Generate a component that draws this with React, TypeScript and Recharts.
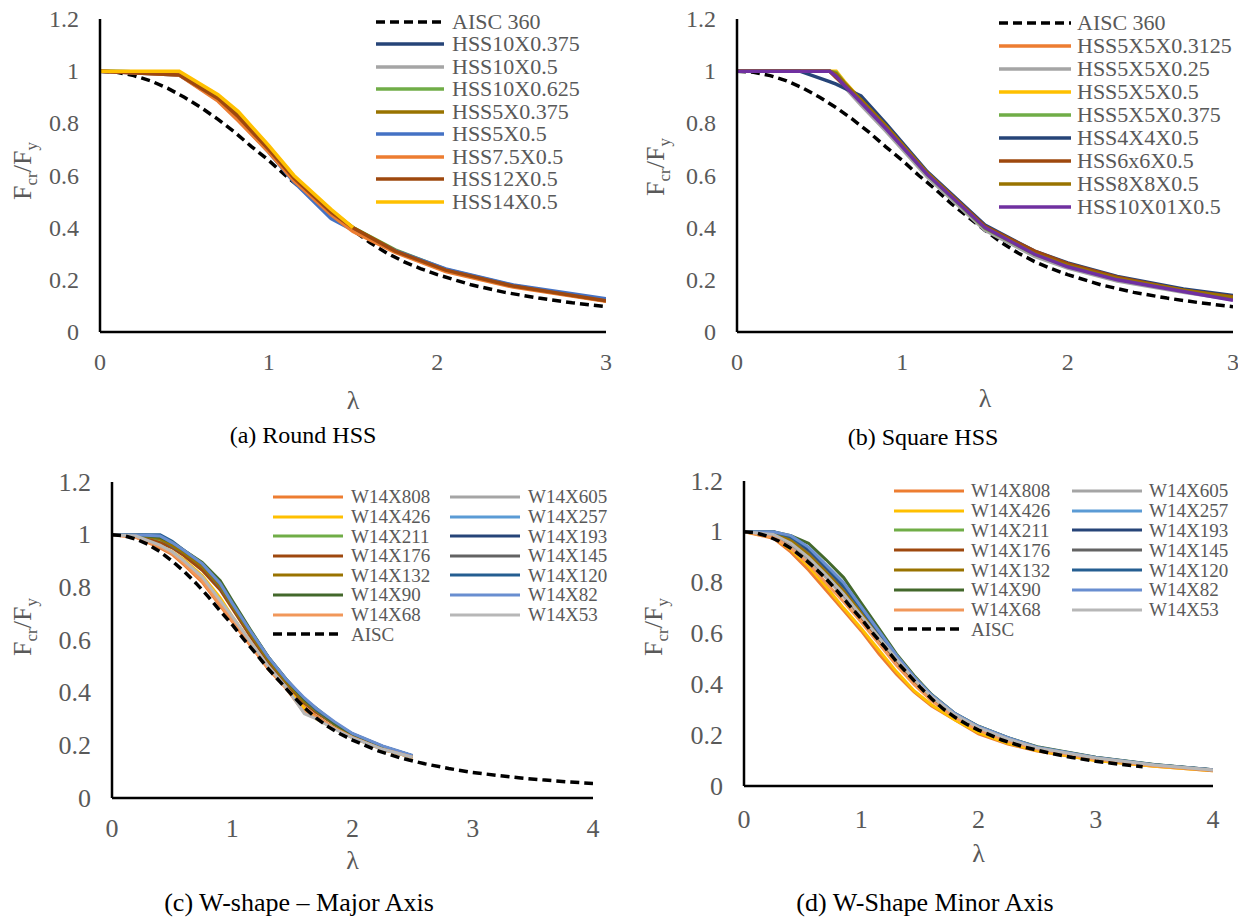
import { Line, LineChart, XAxis, YAxis } from "recharts";

const FONT = "'Liberation Serif', 'Times New Roman', serif";
const GREY = "#595959";

const Y_TICKS = [0, 0.2, 0.4, 0.6, 0.8, 1, 1.2];
const X_TICKS_HSS = [0, 1, 2, 3];
const X_TICKS_W = [0, 1, 2, 3, 4];

// AISC 360 column curve
const AISC_LAM = [0, 0.1, 0.2, 0.3, 0.4, 0.5, 0.6, 0.7, 0.8, 0.9, 1.0, 1.1, 1.2, 1.3, 1.4, 1.5, 1.6, 1.7, 1.8, 1.9, 2.0, 2.2, 2.4, 2.6, 2.8, 3.0, 3.2, 3.4, 3.6, 3.8, 4.0];
const AISC_VAL = [1.0, 0.996, 0.983, 0.963, 0.935, 0.9, 0.86, 0.815, 0.765, 0.71, 0.658, 0.6, 0.547, 0.49, 0.44, 0.39, 0.343, 0.303, 0.27, 0.243, 0.22, 0.181, 0.152, 0.13, 0.112, 0.097, 0.086, 0.076, 0.068, 0.061, 0.055];

// (a) Round HSS
const ROUND_LAM = [0, 0.47, 0.7, 0.82, 1.0, 1.15, 1.37, 1.5, 1.75, 2.05, 2.45, 3.0];
const ROUND_NAMES = ["HSS10X0.375", "HSS10X0.5", "HSS10X0.625", "HSS5X0.375", "HSS5X0.5", "HSS7.5X0.5", "HSS12X0.5", "HSS14X0.5"];
const ROUND_COLORS = ["#264478", "#A5A5A5", "#70AD47", "#997300", "#4472C4", "#ED7D31", "#9E480E", "#FFC000"];
const ROUND_VALUES: (number | null)[][] = [
  [1, 0.995, 0.9, 0.83, 0.7, 0.59, 0.46, 0.395, 0.31, 0.237, 0.176, 0.122],
  [1, 0.995, 0.9, 0.83, 0.7, 0.59, 0.455, 0.39, 0.308, 0.235, 0.175, 0.12],
  [1, 0.995, 0.905, 0.835, 0.705, 0.595, 0.465, 0.4, 0.315, 0.24, 0.178, 0.122],
  [1, 0.99, 0.905, 0.835, 0.705, 0.59, 0.46, 0.4, 0.312, 0.238, 0.176, 0.12],
  [1, 0.985, 0.89, 0.815, 0.69, 0.575, 0.435, 0.39, 0.312, 0.242, 0.18, 0.127],
  [1, 0.985, 0.885, 0.81, 0.69, 0.58, 0.45, 0.385, 0.305, 0.232, 0.172, 0.118],
  [1, 0.985, 0.895, 0.825, 0.7, 0.59, 0.46, 0.4, 0.31, 0.237, 0.176, 0.12],
  [1, 1, 0.91, 0.845, 0.715, 0.6, 0.47, 0.4, null, null, null, null],
];

// (b) Square HSS
const SQUARE_LAM = [0, 0.38, 0.56, 0.6, 0.65, 0.75, 0.9, 1.15, 1.5, 1.8, 2.0, 2.3, 2.7, 3.0];
const SQUARE_NAMES = ["HSS5X5X0.3125", "HSS5X5X0.25", "HSS5X5X0.5", "HSS5X5X0.375", "HSS4X4X0.5", "HSS6x6X0.5", "HSS8X8X0.5", "HSS10X01X0.5"];
const SQUARE_COLORS = ["#ED7D31", "#A5A5A5", "#FFC000", "#70AD47", "#264478", "#9E480E", "#997300", "#7030A0"];
const SQUARE_VALUES: (number | null)[][] = [
  [1, 1, 1, 0.985, 0.955, 0.89, 0.79, 0.605, 0.4, 0.3, 0.255, 0.205, 0.16, 0.13],
  [1, 1, 1, 0.98, 0.94, 0.87, 0.77, 0.595, 0.39, 0.29, 0.245, 0.195, 0.152, 0.125],
  [1, 1, 1, 1, 0.96, 0.89, 0.79, 0.61, 0.4, 0.3, 0.257, 0.207, 0.162, 0.132],
  [1, 1, 1, 0.995, 0.955, 0.885, 0.785, 0.605, 0.398, 0.298, 0.253, 0.203, 0.158, 0.13],
  [1, 1, 0.96, 0.95, 0.935, 0.905, 0.8, 0.615, 0.41, 0.31, 0.265, 0.213, 0.165, 0.14],
  [1, 1, 1, 0.975, 0.945, 0.89, 0.79, 0.61, 0.405, 0.31, 0.262, 0.21, 0.16, 0.135],
  [1, 1, 1, 0.99, 0.955, 0.89, 0.79, 0.61, 0.4, 0.3, 0.255, 0.205, 0.16, 0.132],
  [1, 1, 1, 0.98, 0.945, 0.88, 0.78, 0.605, 0.4, 0.298, 0.25, 0.2, 0.155, 0.122],
];

// W shapes, same sections on both axes
const W_NAMES = ["W14X808", "W14X605", "W14X426", "W14X257", "W14X211", "W14X193", "W14X176", "W14X145", "W14X132", "W14X120", "W14X90", "W14X82", "W14X68", "W14X53"];
const W_COLORS = ["#ED7D31", "#A5A5A5", "#FFC000", "#5B9BD5", "#70AD47", "#264478", "#9E480E", "#636363", "#997300", "#255E91", "#43682B", "#698ED0", "#F1975A", "#B7B7B7"];

// (c) major axis
const MAJOR_LAM = [0, 0.2, 0.4, 0.5, 0.6, 0.75, 0.9, 1.0, 1.15, 1.3, 1.45, 1.6, 1.7, 1.85, 2.0, 2.25, 2.5];
const MAJOR_VALUES: number[][] = [
  [1, 0.99, 0.95, 0.925, 0.885, 0.82, 0.73, 0.67, 0.58, 0.49, 0.42, 0.345, 0.31, 0.265, 0.23, 0.185, 0.155],
  [1, 0.995, 0.955, 0.93, 0.895, 0.83, 0.745, 0.685, 0.59, 0.5, 0.42, 0.33, 0.305, 0.265, 0.23, 0.185, 0.155],
  [1, 0.995, 0.96, 0.935, 0.905, 0.845, 0.76, 0.69, 0.595, 0.5, 0.42, 0.34, 0.3, 0.265, 0.23, 0.185, 0.155],
  [1, 1, 0.985, 0.96, 0.93, 0.885, 0.8, 0.73, 0.63, 0.53, 0.445, 0.375, 0.335, 0.28, 0.24, 0.195, 0.16],
  [1, 1, 0.98, 0.955, 0.925, 0.875, 0.8, 0.73, 0.625, 0.525, 0.44, 0.37, 0.33, 0.28, 0.24, 0.193, 0.158],
  [1, 1, 0.995, 0.965, 0.935, 0.885, 0.81, 0.735, 0.63, 0.53, 0.445, 0.37, 0.335, 0.285, 0.24, 0.195, 0.16],
  [1, 0.995, 0.97, 0.95, 0.92, 0.865, 0.79, 0.72, 0.615, 0.515, 0.435, 0.36, 0.325, 0.28, 0.238, 0.192, 0.158],
  [1, 1, 0.985, 0.955, 0.93, 0.88, 0.8, 0.73, 0.625, 0.525, 0.44, 0.365, 0.33, 0.28, 0.24, 0.193, 0.158],
  [1, 1, 0.985, 0.96, 0.93, 0.88, 0.805, 0.73, 0.625, 0.525, 0.44, 0.365, 0.33, 0.28, 0.24, 0.193, 0.158],
  [1, 1, 1, 0.975, 0.94, 0.89, 0.815, 0.74, 0.635, 0.535, 0.45, 0.375, 0.335, 0.285, 0.243, 0.196, 0.16],
  [1, 1, 0.99, 0.97, 0.94, 0.895, 0.825, 0.75, 0.64, 0.535, 0.45, 0.375, 0.34, 0.285, 0.243, 0.196, 0.16],
  [1, 1, 0.995, 0.97, 0.94, 0.89, 0.815, 0.74, 0.635, 0.535, 0.45, 0.38, 0.34, 0.29, 0.245, 0.198, 0.162],
  [1, 0.99, 0.955, 0.93, 0.89, 0.825, 0.735, 0.675, 0.585, 0.49, 0.415, 0.325, 0.305, 0.265, 0.23, 0.185, 0.155],
  [1, 0.995, 0.96, 0.935, 0.9, 0.84, 0.75, 0.69, 0.595, 0.5, 0.42, 0.32, 0.3, 0.262, 0.228, 0.185, 0.155],
];

// (d) minor axis
const MINOR_LAM = [0, 0.25, 0.4, 0.55, 0.7, 0.85, 1.0, 1.15, 1.3, 1.45, 1.6, 1.8, 2.0, 2.25, 2.5, 3.0, 3.5, 4.0];
const MINOR_VALUES: number[][] = [
  [1, 0.975, 0.92, 0.85, 0.77, 0.69, 0.61, 0.52, 0.44, 0.37, 0.315, 0.26, 0.205, 0.165, 0.138, 0.1, 0.078, 0.06],
  [1, 0.985, 0.945, 0.89, 0.82, 0.745, 0.66, 0.575, 0.49, 0.41, 0.345, 0.275, 0.225, 0.18, 0.148, 0.108, 0.082, 0.062],
  [1, 0.98, 0.93, 0.865, 0.785, 0.7, 0.62, 0.535, 0.45, 0.375, 0.32, 0.26, 0.21, 0.168, 0.14, 0.1, 0.078, 0.06],
  [1, 0.995, 0.975, 0.915, 0.84, 0.765, 0.68, 0.59, 0.5, 0.42, 0.35, 0.28, 0.23, 0.185, 0.15, 0.11, 0.083, 0.063],
  [1, 0.995, 0.97, 0.915, 0.845, 0.77, 0.685, 0.59, 0.5, 0.42, 0.35, 0.28, 0.23, 0.185, 0.15, 0.11, 0.083, 0.063],
  [1, 1, 0.975, 0.925, 0.855, 0.78, 0.69, 0.595, 0.505, 0.425, 0.355, 0.282, 0.232, 0.187, 0.152, 0.11, 0.083, 0.063],
  [1, 0.99, 0.955, 0.9, 0.83, 0.755, 0.665, 0.58, 0.495, 0.415, 0.35, 0.278, 0.228, 0.183, 0.15, 0.108, 0.082, 0.062],
  [1, 0.995, 0.97, 0.915, 0.845, 0.77, 0.685, 0.59, 0.5, 0.42, 0.352, 0.28, 0.23, 0.185, 0.15, 0.11, 0.083, 0.063],
  [1, 0.995, 0.965, 0.91, 0.84, 0.765, 0.68, 0.585, 0.5, 0.42, 0.35, 0.28, 0.23, 0.185, 0.15, 0.11, 0.083, 0.063],
  [1, 1, 0.98, 0.935, 0.865, 0.79, 0.7, 0.605, 0.51, 0.43, 0.358, 0.285, 0.234, 0.19, 0.153, 0.112, 0.084, 0.064],
  [1, 1, 0.985, 0.955, 0.89, 0.82, 0.72, 0.62, 0.52, 0.435, 0.36, 0.285, 0.235, 0.19, 0.155, 0.113, 0.085, 0.064],
  [1, 1, 0.985, 0.94, 0.87, 0.8, 0.705, 0.61, 0.515, 0.43, 0.358, 0.285, 0.234, 0.19, 0.153, 0.112, 0.084, 0.064],
  [1, 0.98, 0.935, 0.875, 0.8, 0.725, 0.645, 0.56, 0.475, 0.4, 0.335, 0.27, 0.22, 0.177, 0.145, 0.105, 0.08, 0.061],
  [1, 0.99, 0.955, 0.9, 0.83, 0.755, 0.67, 0.585, 0.5, 0.42, 0.352, 0.28, 0.23, 0.185, 0.15, 0.11, 0.083, 0.063],
];

type Pt = { x: number; y: number };
type SeriesDef = { name: string; color: string; points: Pt[]; dashed?: boolean };

function toPoints(lams: number[], vals: (number | null)[], maxLam = Infinity): Pt[] {
  const out: Pt[] = [];
  lams.forEach((x, i) => {
    const y = vals[i];
    if (y != null && x <= maxLam) out.push({ x, y });
  });
  return out;
}

function buildSeries(names: string[], colors: string[], lams: number[], values: (number | null)[][]): SeriesDef[] {
  return names.map((name, i) => ({ name, color: colors[i], points: toPoints(lams, values[i]) }));
}

function aisc(name: string, maxLam: number): SeriesDef {
  return { name, color: "#000", dashed: true, points: toPoints(AISC_LAM, AISC_VAL, maxLam) };
}

type PanelProps = {
  left: number;
  top: number;
  width: number;
  height: number;
  margin: { top: number; right: number; bottom: number; left: number };
  xMax: number;
  xTicks: number[];
  tickFont: number;
  tickGapX: number;
  series: SeriesDef[];
  lineWidth: number;
  yTitle: { x: number; y: number };
  lambdaY: number;
  legend: { left: number; top: number; rowH: number; colW: number; cols: number; lineW: number; gap: number; font: number };
};

function Panel(p: PanelProps) {
  const plotW = p.width - p.margin.left - 60 - p.margin.right;
  const lambdaX = p.margin.left + 60 + plotW / 2;
  const lg = p.legend;
  const tickStyle = { fontSize: p.tickFont, fontFamily: FONT, fill: GREY };
  const xTick = (t: any) => (
    <text x={t.x} y={t.y} textAnchor="middle" dominantBaseline="central" style={tickStyle}>
      {t.payload.value}
    </text>
  );
  const yTick = (t: any) => (
    <text x={t.x} y={t.y} textAnchor="end" dominantBaseline="central" style={tickStyle}>
      {t.payload.value}
    </text>
  );
  return (
    <div style={{ position: "absolute", left: p.left, top: p.top, width: p.width, height: p.height }}>
      <LineChart width={p.width} height={p.height} margin={p.margin} style={{ fontFamily: FONT }}>
        <XAxis
          type="number"
          dataKey="x"
          domain={[0, p.xMax]}
          ticks={p.xTicks}
          allowDataOverflow
          height={40}
          axisLine={{ stroke: "#000", strokeWidth: 2.5 }}
          tickLine={false}
          tickSize={0}
          tickMargin={p.tickGapX}
          fontSize={p.tickFont}
          tick={xTick}
          label={() => (
            <text x={lambdaX} y={p.lambdaY} textAnchor="middle" dominantBaseline="central" style={{ fontSize: 26, fontFamily: FONT, fill: GREY }}>
              λ
            </text>
          )}
        />
        <YAxis
          type="number"
          dataKey="y"
          domain={[0, 1.2]}
          ticks={Y_TICKS}
          width={60}
          axisLine={{ stroke: "#000", strokeWidth: 2.5 }}
          tickLine={false}
          tickSize={0}
          tickMargin={21}
          fontSize={p.tickFont}
          tick={yTick}
          label={() => (
            <text
              transform={`translate(${p.yTitle.x + 8},${p.yTitle.y}) rotate(-90)`}
              textAnchor="middle"
              style={{ fontSize: 26, fontFamily: FONT, fill: GREY }}
            >
              F<tspan style={{ fontSize: 17 }} dy={6}>cr</tspan>
              <tspan style={{ fontSize: 26 }} dy={-6}>/F</tspan>
              <tspan style={{ fontSize: 17 }} dy={6}>y</tspan>
            </text>
          )}
        />
        {p.series.map((s) => (
          <Line
            key={s.name}
            data={s.points}
            dataKey="y"
            name={s.name}
            type="linear"
            stroke={s.color}
            strokeWidth={s.dashed ? 3.5 : p.lineWidth}
            strokeDasharray={s.dashed ? "9 5" : undefined}
            dot={false}
            activeDot={false}
            isAnimationActive={false}
          />
        ))}
      </LineChart>
      {p.series.map((s, i) => {
        const row = Math.floor(i / lg.cols);
        const col = i % lg.cols;
        return (
          <div
            key={s.name}
            style={{
              position: "absolute",
              left: lg.left + col * lg.colW,
              top: lg.top + row * lg.rowH,
              height: lg.rowH,
              display: "flex",
              alignItems: "center",
              whiteSpace: "nowrap",
            }}
          >
            <svg width={lg.lineW} height={8}>
              <line
                x1={0}
                y1={4}
                x2={lg.lineW}
                y2={4}
                stroke={s.color}
                strokeWidth={s.dashed ? 3.5 : p.lineWidth}
                strokeDasharray={s.dashed ? "9 5" : undefined}
              />
            </svg>
            <span style={{ marginLeft: lg.gap, fontFamily: FONT, fontSize: lg.font, color: GREY, lineHeight: 1 }}>{s.name}</span>
          </div>
        );
      })}
    </div>
  );
}

function Caption({ text, x, y, size }: { text: string; x: number; y: number; size: number }) {
  return (
    <div
      style={{
        position: "absolute",
        left: x - 200,
        top: y - size * 0.6,
        width: 400,
        textAlign: "center",
        fontFamily: FONT,
        fontSize: size,
        lineHeight: `${size * 1.2}px`,
        color: "#000",
      }}
    >
      {text}
    </div>
  );
}

export default function App() {
  const round = [aisc("AISC 360", 3), ...buildSeries(ROUND_NAMES, ROUND_COLORS, ROUND_LAM, ROUND_VALUES)];
  const square = [aisc("AISC 360", 3), ...buildSeries(SQUARE_NAMES, SQUARE_COLORS, SQUARE_LAM, SQUARE_VALUES)];
  const major = [...buildSeries(W_NAMES, W_COLORS, MAJOR_LAM, MAJOR_VALUES), aisc("AISC", 4)];
  const minor = [...buildSeries(W_NAMES, W_COLORS, MINOR_LAM, MINOR_VALUES), aisc("AISC", 3.4)];

  return (
    <div style={{ position: "absolute", left: 0, top: 0, width: 1238, height: 919, background: "#fff", overflow: "hidden" }}>
      <Panel
        left={0}
        top={0}
        width={620}
        height={420}
        margin={{ top: 19, right: 14, bottom: 48, left: 40 }}
        xMax={3}
        xTicks={X_TICKS_HSS}
        tickFont={24}
        tickGapX={30}
        series={round}
        lineWidth={3.5}
        yTitle={{ x: 23, y: 171 }}
        lambdaY={400}
        legend={{ left: 376, top: 10.5, rowH: 22.5, colW: 0, cols: 1, lineW: 68, gap: 8, font: 22 }}
      />
      <Panel
        left={620}
        top={0}
        width={618}
        height={420}
        margin={{ top: 19, right: 5, bottom: 48, left: 57 }}
        xMax={3}
        xTicks={X_TICKS_HSS}
        tickFont={24}
        tickGapX={30}
        series={square}
        lineWidth={3.5}
        yTitle={{ x: 36, y: 167 }}
        lambdaY={398}
        legend={{ left: 379, top: 11.5, rowH: 23, colW: 0, cols: 1, lineW: 72, gap: 6, font: 22 }}
      />
      <Panel
        left={0}
        top={460}
        width={620}
        height={420}
        margin={{ top: 22, right: 27, bottom: 42, left: 52 }}
        xMax={4}
        xTicks={X_TICKS_W}
        tickFont={26}
        tickGapX={30}
        series={major}
        lineWidth={3}
        yTitle={{ x: 23, y: 167 }}
        lambdaY={400}
        legend={{ left: 273, top: 27.2, rowH: 19.6, colW: 177, cols: 2, lineW: 70, gap: 8, font: 19 }}
      />
      <Panel
        left={620}
        top={460}
        width={618}
        height={420}
        margin={{ top: 21, right: 25, bottom: 54, left: 64 }}
        xMax={4}
        xTicks={X_TICKS_W}
        tickFont={26}
        tickGapX={33}
        series={minor}
        lineWidth={3}
        yTitle={{ x: 34, y: 167 }}
        lambdaY={393}
        legend={{ left: 274, top: 21, rowH: 19.8, colW: 178, cols: 2, lineW: 70, gap: 7, font: 19 }}
      />
      <Caption text="(a) Round HSS" x={303} y={435} size={24} />
      <Caption text="(b) Square HSS" x={923} y={437} size={24} />
      <Caption text="(c) W-shape – Major Axis" x={299} y={903} size={26} />
      <Caption text="(d) W-Shape Minor Axis" x={925} y={903} size={26} />
    </div>
  );
}
